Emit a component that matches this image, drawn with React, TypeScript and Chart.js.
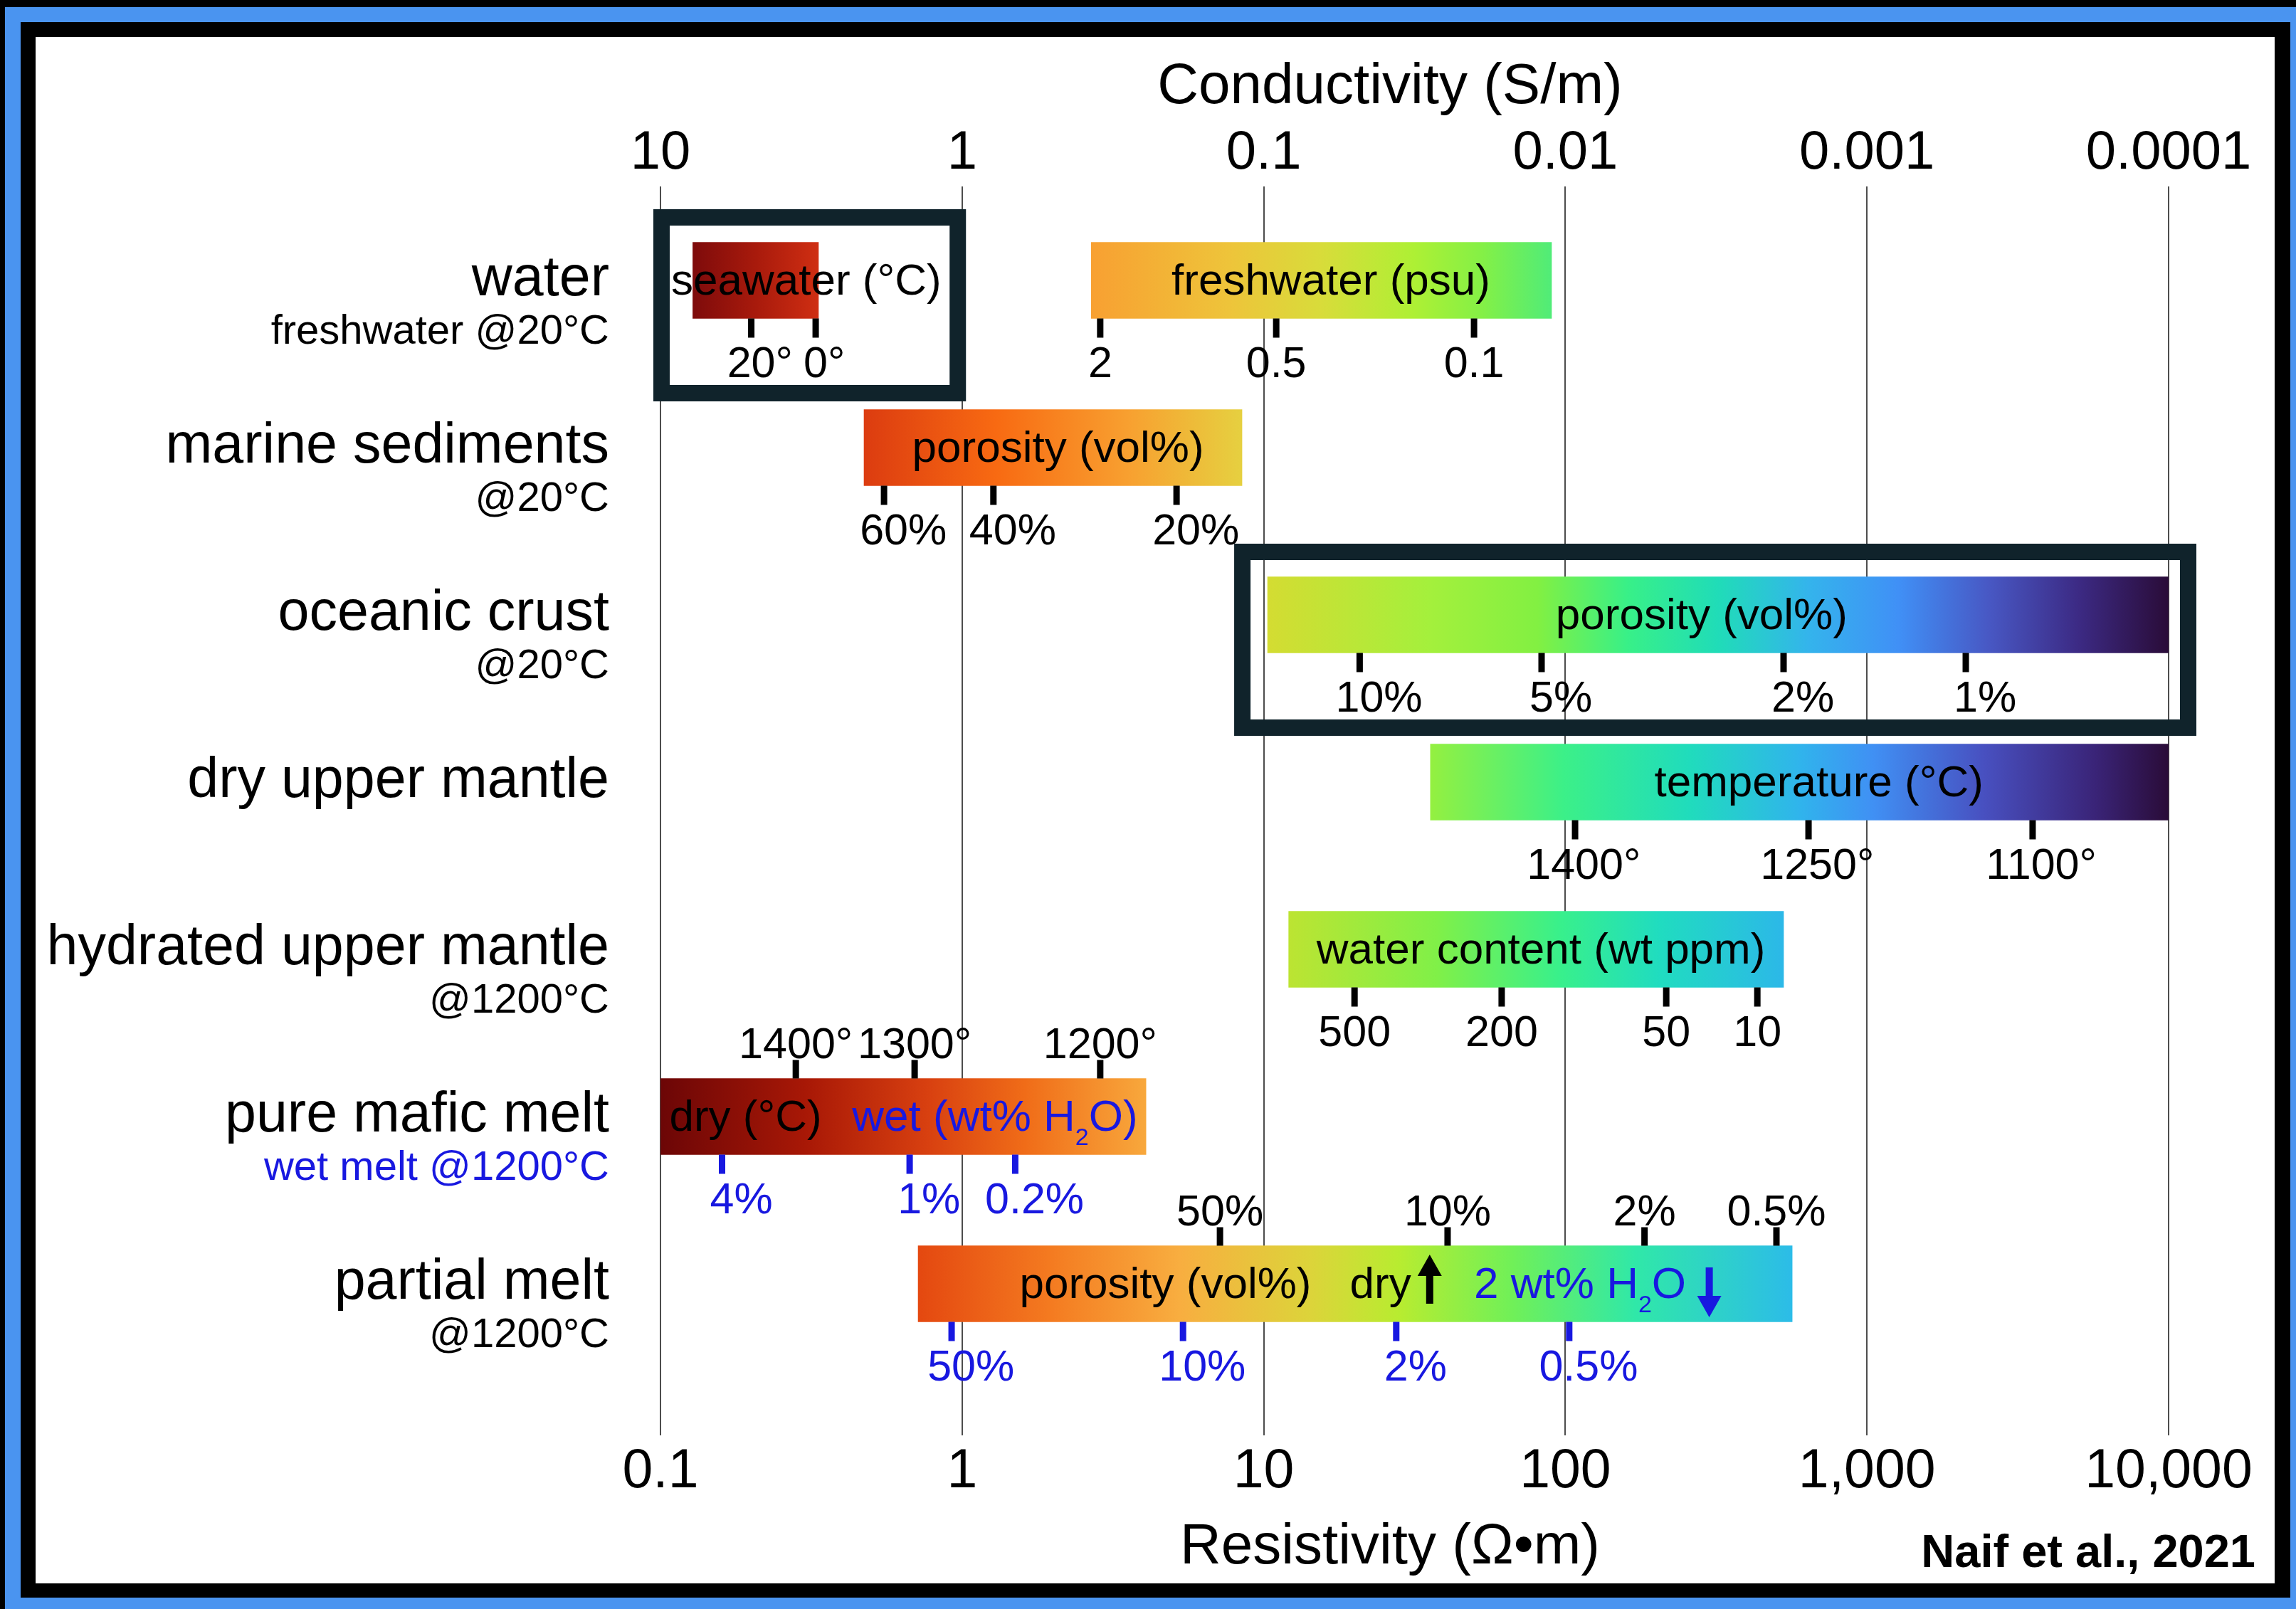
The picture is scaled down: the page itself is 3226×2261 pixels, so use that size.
import React, { useEffect, useRef } from 'react';
import { Chart, registerables } from 'chart.js';

Chart.register(...registerables);

// ---------------- data ----------------
const categories = [
  'water',
  'marine sediments',
  'oceanic crust',
  'dry upper mantle',
  'hydrated upper mantle',
  'pure mafic melt',
  'partial melt',
];
const subLabels = ['freshwater @20°C', '@20°C', '@20°C', '', '@1200°C', 'wet melt @1200°C', '@1200°C'];

// resistivity ranges (ohm-m) of the main bar of each category
const mainRanges: [number, number][] = [
  [0.128, 0.334],
  [0.473, 8.47],
  [10.3, 10000],
  [35.7, 10000],
  [12.1, 529],
  [0.1, 4.07],
  [0.715, 565],
];
const freshwaterRange: [number, number] = [2.68, 90];

const resistivityTicks = [0.1, 1, 10, 100, 1000, 10000];
const resistivityTickLabels = ['0.1', '1', '10', '100', '1,000', '10,000'];
const conductivityTicks = [10, 1, 0.1, 0.01, 0.001, 0.0001];
const conductivityTickLabels = ['10', '1', '0.1', '0.01', '0.001', '0.0001'];

const seawaterTicks = [0.2, 0.327];
const seawaterTickLabels = ['20°', '0°'];
const freshwaterTicks = [2.87, 11.0, 49.8];
const freshwaterTickLabels = ['2', '0.5', '0.1'];
const sedimentTicks = [0.551, 1.27, 5.14];
const sedimentTickLabels = ['60%', '40%', '20%'];
const crustTicks = [20.8, 83.4, 529, 2126];
const crustTickLabels = ['10%', '5%', '2%', '1%'];
const dryMantleTicks = [107.7, 640, 3541];
const dryMantleTickLabels = ['1400°', '1250°', '1100°'];
const hydratedTicks = [20.0, 61.5, 216, 433];
const hydratedTickLabels = ['500', '200', '50', '10'];
const maficDryTicks = [0.281, 0.696, 2.87];
const maficDryTickLabels = ['1400°', '1300°', '1200°'];
const maficWetTicks = [0.16, 0.67, 1.5];
const maficWetTickLabels = ['4%', '1%', '0.2%'];
const partialDryTicks = [7.16, 40.7, 183, 501];
const partialDryTickLabels = ['50%', '10%', '2%', '0.5%'];
const partialWetTicks = [0.923, 5.4, 27.5, 103];
const partialWetTickLabels = ['50%', '10%', '2%', '0.5%'];

const seawaterBox: [number, number] = [0.0947, 1.03];
const crustBox: [number, number] = [7.98, 12360];

// ---------------- styles ----------------
const W = 3226;
const H = 2261;
const FONT = '"Liberation Sans", Arial, Helvetica, sans-serif';
const BLACK = '#000000';
const BLUE = '#1818e0';
const BOXC = '#10232b';
const GRID = '#4d4d4d';
const BAR_H = 107;

type Stops = [number, string][];
const gradSeawater: Stops = [[0, '#7e0b0b'], [0.5, '#a81a0c'], [1, '#cf2e12']];
const gradFreshwater: Stops = [[0, '#f8a032'], [0.3, '#eec43a'], [0.5, '#d8dc3a'], [0.7, '#aef034'], [0.85, '#84f046'], [1, '#50ec78']];
const gradSediments: Stops = [[0, '#dc3c10'], [0.35, '#f86a12'], [0.7, '#f8a030'], [1, '#e6d040']];
const gradCrust: Stops = [[0, '#d4dc32'], [0.18, '#a4f03c'], [0.3, '#82f042'], [0.4, '#38f088'], [0.5, '#20dcb8'], [0.6, '#34b4ec'], [0.7, '#4090f6'], [0.8, '#4858c4'], [0.9, '#3c2a84'], [1, '#2a0c38']];
const gradDry: Stops = [[0, '#94f040'], [0.18, '#3cf088'], [0.35, '#20dcbc'], [0.5, '#30b4ec'], [0.6, '#4090f4'], [0.75, '#4850c0'], [0.9, '#3a2478'], [1, '#2a0c38']];
const gradHydrated: Stops = [[0, '#bce432'], [0.3, '#80f048'], [0.55, '#38f08c'], [0.75, '#20dcc0'], [1, '#2cb8e8']];
const gradMafic: Stops = [[0, '#6c0606'], [0.3, '#a81806'], [0.55, '#d84010'], [0.75, '#f06c18'], [1, '#f8a83c']];
const gradPartial: Stops = [[0, '#e44810'], [0.15, '#f47a20'], [0.3, '#f8ae40'], [0.45, '#dcd43a'], [0.55, '#b8ec30'], [0.68, '#70f058'], [0.82, '#30e8a8'], [1, '#2cbce8']];
const rowGradients: Stops[] = [gradSeawater, gradSediments, gradCrust, gradDry, gradHydrated, gradMafic, gradPartial];

type SubScale = { row: number; values: number[]; labels: string[]; side: 'below' | 'above'; color: string; align: 'num' | 'full' };
const subScales: SubScale[] = [
  { row: 0, values: seawaterTicks, labels: seawaterTickLabels, side: 'below', color: BLACK, align: 'num' },
  { row: 0, values: freshwaterTicks, labels: freshwaterTickLabels, side: 'below', color: BLACK, align: 'num' },
  { row: 1, values: sedimentTicks, labels: sedimentTickLabels, side: 'below', color: BLACK, align: 'num' },
  { row: 2, values: crustTicks, labels: crustTickLabels, side: 'below', color: BLACK, align: 'num' },
  { row: 3, values: dryMantleTicks, labels: dryMantleTickLabels, side: 'below', color: BLACK, align: 'num' },
  { row: 4, values: hydratedTicks, labels: hydratedTickLabels, side: 'below', color: BLACK, align: 'num' },
  { row: 5, values: maficDryTicks, labels: maficDryTickLabels, side: 'above', color: BLACK, align: 'full' },
  { row: 5, values: maficWetTicks, labels: maficWetTickLabels, side: 'below', color: BLUE, align: 'num' },
  { row: 6, values: partialDryTicks, labels: partialDryTickLabels, side: 'above', color: BLACK, align: 'full' },
  { row: 6, values: partialWetTicks, labels: partialWetTickLabels, side: 'below', color: BLUE, align: 'num' },
];

type Seg = { t: string; color?: string; sub?: boolean };
type Caption = { row: number; at: number; align: 'left' | 'center'; segs: Seg[] };
const captions: Caption[] = [
  { row: 0, at: 0.1085, align: 'left', segs: [{ t: 'seawater (°C)' }] },
  { row: 0, at: 16.7, align: 'center', segs: [{ t: 'freshwater (psu)' }] },
  { row: 1, at: 2.08, align: 'center', segs: [{ t: 'porosity (vol%)' }] },
  { row: 2, at: 283, align: 'center', segs: [{ t: 'porosity (vol%)' }] },
  { row: 3, at: 693, align: 'center', segs: [{ t: 'temperature (°C)' }] },
  { row: 4, at: 83, align: 'center', segs: [{ t: 'water content (wt ppm)' }] },
  { row: 5, at: 0.107, align: 'left', segs: [{ t: 'dry (°C)' }] },
  { row: 5, at: 0.432, align: 'left', segs: [{ t: 'wet (wt% H', color: BLUE }, { t: '2', color: BLUE, sub: true }, { t: 'O)', color: BLUE }] },
  { row: 6, at: 1.55, align: 'left', segs: [{ t: 'porosity (vol%)' }] },
  { row: 6, at: 19.3, align: 'left', segs: [{ t: 'dry' }] },
  { row: 6, at: 49.8, align: 'left', segs: [{ t: '2 wt% H', color: BLUE }, { t: '2', color: BLUE, sub: true }, { t: 'O', color: BLUE }] },
];
const arrows = [
  { row: 6, at: 35.5, dir: 'up', color: BLACK },
  { row: 6, at: 300, dir: 'down', color: BLUE },
];

// ---------------- helpers ----------------
function font(size: number, bold = false) {
  return `${bold ? 'bold ' : ''}${size}px ${FONT}`;
}

function drawRich(ctx: CanvasRenderingContext2D, segs: Seg[], x: number, y: number, align: 'left' | 'center', size: number) {
  const subSize = Math.round(size * 0.55);
  let total = 0;
  const widths = segs.map((s) => {
    ctx.font = font(s.sub ? subSize : size);
    const w = ctx.measureText(s.t).width;
    total += w;
    return w;
  });
  let cx = align === 'center' ? x - total / 2 : x;
  ctx.textAlign = 'left';
  ctx.textBaseline = 'alphabetic';
  segs.forEach((s, i) => {
    ctx.font = font(s.sub ? subSize : size);
    ctx.fillStyle = s.color || BLACK;
    ctx.fillText(s.t, cx, s.sub ? y + 20 : y);
    cx += widths[i];
  });
}

function drawArrow(ctx: CanvasRenderingContext2D, x: number, yTail: number, yTip: number, color: string) {
  const dir = yTip < yTail ? -1 : 1;
  const headLen = 30;
  const headW = 34;
  const shaftW = 10;
  const yBase = yTip - dir * headLen;
  ctx.fillStyle = color;
  ctx.fillRect(x - shaftW / 2, Math.min(yTail, yBase), shaftW, Math.abs(yBase - yTail) + 1);
  ctx.beginPath();
  ctx.moveTo(x, yTip);
  ctx.lineTo(x - headW / 2, yBase);
  ctx.lineTo(x + headW / 2, yBase);
  ctx.closePath();
  ctx.fill();
}

function gradientFor(getStops: (c: any) => Stops | null) {
  return (c: any) => {
    if (c.type !== 'data' || !c.raw) return 'rgba(0,0,0,0)';
    const stops = getStops(c);
    const xs = c.chart.scales && c.chart.scales.x;
    if (!stops || !xs) return stops ? stops[0][1] : '#cccccc';
    const x0 = xs.getPixelForValue(c.raw[0]);
    const x1 = xs.getPixelForValue(c.raw[1]);
    if (!isFinite(x0) || !isFinite(x1) || x0 === x1) return stops[0][1];
    const g = c.chart.ctx.createLinearGradient(x0, 0, x1, 0);
    stops.forEach(([p, col]) => g.addColorStop(p, col));
    return g;
  };
}

// ---------------- plugins ----------------
const framePlugin = {
  id: 'frame',
  beforeDraw(chart: any) {
    const ctx = chart.ctx as CanvasRenderingContext2D;
    ctx.save();
    ctx.fillStyle = '#000000';
    ctx.fillRect(0, 0, W, H);
    ctx.fillStyle = '#4a94f0';
    ctx.fillRect(7, 10, W - 7, H - 10);
    ctx.fillStyle = '#000000';
    ctx.fillRect(29, 31, 3218 - 29, 2245 - 31);
    ctx.fillStyle = '#ffffff';
    ctx.fillRect(50, 52, 3196 - 50, 2225 - 52);
    ctx.restore();
  },
};

const overlayPlugin = {
  id: 'overlay',
  afterDatasetsDraw(chart: any) {
    const ctx = chart.ctx as CanvasRenderingContext2D;
    const xs = chart.scales.x;
    const ys = chart.scales.y;
    const half = BAR_H / 2;
    ctx.save();

    // highlight boxes
    const box = (range: [number, number], row: number) => {
      const yc = ys.getPixelForValue(row);
      const x0 = xs.getPixelForValue(range[0]);
      const x1 = xs.getPixelForValue(range[1]);
      const y0 = yc - 100;
      const y1 = yc + 170;
      const lw = 23;
      ctx.strokeStyle = BOXC;
      ctx.lineWidth = lw;
      ctx.strokeRect(x0 + lw / 2, y0 + lw / 2, x1 - x0 - lw, y1 - y0 - lw);
    };
    box(seawaterBox, 0);
    box(crustBox, 2);

    // sub-scale ticks and labels
    subScales.forEach((s) => {
      const yc = ys.getPixelForValue(s.row);
      s.values.forEach((v, i) => {
        const x = xs.getPixelForValue(v);
        ctx.fillStyle = s.color;
        if (s.side === 'below') ctx.fillRect(x - 4.5, yc + half, 9, 27);
        else ctx.fillRect(x - 4.5, yc - half - 26, 9, 26);
        const by = s.side === 'below' ? yc + 136 : yc - 82;
        const label = s.labels[i];
        ctx.font = font(61);
        ctx.textBaseline = 'alphabetic';
        if (s.align === 'num') {
          const m = label.match(/^[\d.,]+/);
          const num = m ? m[0] : label;
          const wn = ctx.measureText(num).width;
          ctx.textAlign = 'left';
          ctx.fillText(label, x - wn / 2, by);
        } else {
          ctx.textAlign = 'center';
          ctx.fillText(label, x, by);
        }
      });
    });

    // captions inside bars
    captions.forEach((c) => {
      const yc = ys.getPixelForValue(c.row);
      drawRich(ctx, c.segs, xs.getPixelForValue(c.at), yc + 20, c.align, 62);
    });

    // arrows
    arrows.forEach((a) => {
      const yc = ys.getPixelForValue(a.row);
      const x = xs.getPixelForValue(a.at);
      if (a.dir === 'up') drawArrow(ctx, x, yc + 27, yc - 41, a.color);
      else drawArrow(ctx, x, yc - 23, yc + 47, a.color);
    });
    ctx.restore();
  },
  afterDraw(chart: any) {
    const ctx = chart.ctx as CanvasRenderingContext2D;
    const ys = chart.scales.y;
    ctx.save();
    ctx.textAlign = 'right';
    ctx.textBaseline = 'alphabetic';
    categories.forEach((name, i) => {
      const yc = ys.getPixelForValue(i);
      ctx.font = font(79);
      ctx.fillStyle = BLACK;
      ctx.fillText(name, 856, yc + 21);
      if (subLabels[i]) {
        ctx.font = font(58);
        ctx.fillStyle = i === 5 ? BLUE : BLACK;
        ctx.fillText(subLabels[i], 856, yc + 89);
      }
    });
    ctx.textAlign = 'center';
    ctx.fillStyle = BLACK;
    ctx.font = font(80);
    ctx.fillText('Conductivity (S/m)', 1953, 145);
    ctx.fillText('Resistivity (Ω•m)', 1953, 2197);
    ctx.textAlign = 'right';
    ctx.font = font(65, true);
    ctx.fillText('Naif et al., 2021', 3169, 2202);
    ctx.restore();
  },
};

// ---------------- component ----------------
export default function App() {
  const ref = useRef<HTMLCanvasElement>(null);

  useEffect(() => {
    const canvas = ref.current;
    if (!canvas) return;
    const chart = new Chart(canvas, {
      type: 'bar',
      data: {
        labels: categories,
        datasets: [
          {
            label: 'range',
            data: mainRanges as any,
            backgroundColor: gradientFor((c) => rowGradients[c.dataIndex]) as any,
            borderWidth: 0,
            borderSkipped: false,
            barThickness: BAR_H,
            grouped: false,
          } as any,
          {
            label: 'freshwater',
            data: [freshwaterRange, null, null, null, null, null, null] as any,
            backgroundColor: gradientFor(() => gradFreshwater) as any,
            borderWidth: 0,
            borderSkipped: false,
            barThickness: BAR_H,
            grouped: false,
          } as any,
        ],
      },
      options: {
        indexAxis: 'y',
        responsive: false,
        animation: false,
        devicePixelRatio: 1,
        events: [],
        layout: { padding: { left: 0, top: 0, right: 179, bottom: 0 } },
        plugins: {
          legend: { display: false },
          tooltip: { enabled: false },
          title: { display: false },
        },
        scales: {
          x: {
            type: 'logarithmic',
            position: 'bottom',
            min: 0.1,
            max: 10000,
            afterBuildTicks: (axis: any) => {
              axis.ticks = resistivityTicks.map((v) => ({ value: v }));
            },
            afterFit: (axis: any) => {
              axis.height = H - 1921.5;
            },
            ticks: {
              autoSkip: false,
              maxRotation: 0,
              padding: 13.5,
              color: BLACK,
              font: { family: FONT, size: 77, lineHeight: 1 },
              callback: (value: any) => {
                const i = resistivityTicks.findIndex((t) => Math.abs(t - Number(value)) < 1e-9 * Math.max(1, t));
                return i >= 0 ? resistivityTickLabels[i] : '';
              },
            },
            grid: { color: GRID, lineWidth: 2, tickLength: 95.5, tickColor: GRID, drawTicks: true },
            border: { display: false },
          },
          x2: {
            type: 'logarithmic',
            axis: 'x',
            position: 'top',
            reverse: true,
            min: 0.0001,
            max: 10,
            afterBuildTicks: (axis: any) => {
              axis.ticks = conductivityTicks.map((v) => ({ value: v }));
            },
            afterFit: (axis: any) => {
              axis.height = 276.5;
            },
            ticks: {
              autoSkip: false,
              maxRotation: 0,
              padding: 8,
              color: BLACK,
              font: { family: FONT, size: 76, lineHeight: 1 },
              callback: (value: any) => {
                const i = conductivityTicks.findIndex((t) => Math.abs(t - Number(value)) < 1e-6 * t);
                return i >= 0 ? conductivityTickLabels[i] : '';
              },
            },
            grid: { color: GRID, lineWidth: 2, tickLength: 14.5, tickColor: GRID, drawOnChartArea: false, drawTicks: true },
            border: { display: false },
          },
          y: {
            type: 'category',
            position: 'left',
            offset: true,
            afterFit: (axis: any) => {
              axis.width = 928;
            },
            ticks: { display: false },
            grid: { display: false },
            border: { display: false },
          },
        } as any,
      },
      plugins: [framePlugin, overlayPlugin],
    } as any);
    return () => chart.destroy();
  }, []);

  return (
    <div style={{ position: 'fixed', left: 0, top: 0, width: W, height: H, overflow: 'hidden' }}>
      <canvas ref={ref} width={W} height={H} style={{ display: 'block', width: W, height: H }} />
    </div>
  );
}
